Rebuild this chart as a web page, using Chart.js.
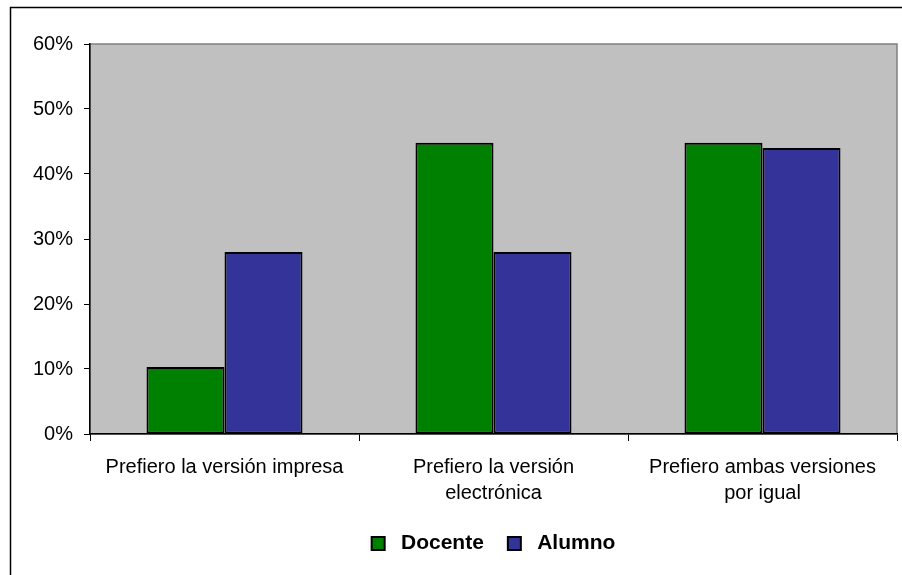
<!DOCTYPE html>
<html lang="es">
<head>
  <meta charset="UTF-8">
  <title>Preferencia de versión</title>
  <style>
    body { margin: 0; background: #fff; }
    #wrap { width: 902px; height: 575px; }
  </style>
</head>
<body>
  <div id="wrap"><canvas id="chart" width="902" height="575"></canvas></div>

  <script src="https://cdn.jsdelivr.net/npm/chart.js"></script>
  <script>
    // data
    const categories = [
      'Prefiero la versión impresa',
      ['Prefiero la versión', 'electrónica'],
      ['Prefiero ambas versiones', 'por igual']
    ];
    const docente = [0.103, 0.448, 0.448];
    const alumno = [0.28, 0.28, 0.44];
    const yTicks = [0, 0.1, 0.2, 0.3, 0.4, 0.5, 0.6];

    const font = 'Arial, "Liberation Sans", sans-serif';

    // gray plot background + outer frame
    const backdrop = {
      id: 'backdrop',
      beforeDraw(chart) {
        const ctx = chart.ctx;
        const a = chart.chartArea;
        ctx.save();
        ctx.strokeStyle = '#000';
        ctx.lineWidth = 1.5;
        ctx.strokeRect(10.5, 7.5, 902, 575);
        ctx.fillStyle = '#C0C0C0';
        ctx.fillRect(a.left, a.top, a.right - a.left, a.bottom - a.top);
        ctx.strokeStyle = '#808080';
        ctx.lineWidth = 1.5;
        ctx.strokeRect(a.left, a.top, a.right - a.left, a.bottom - a.top);
        ctx.restore();
      }
    };

    new Chart(document.getElementById('chart'), {
      type: 'bar',
      data: {
        labels: categories,
        datasets: [
          {
            label: ' Docente',
            data: docente,
            backgroundColor: '#008000',
            borderColor: '#000',
            borderWidth: 2,
            borderSkipped: false
          },
          {
            label: ' Alumno',
            data: alumno,
            backgroundColor: '#333399',
            borderColor: '#000',
            borderWidth: 2,
            borderSkipped: false
          }
        ]
      },
      options: {
        responsive: false,
        animation: false,
        datasets: { bar: { categoryPercentage: 0.58, barPercentage: 1 } },
        layout: { padding: { left: 10, right: 5, top: 44, bottom: 11 } },
        plugins: {
          tooltip: { enabled: false },
          legend: {
            position: 'bottom',
            fullSize: false,
            labels: {
              color: '#000',
              font: { family: font, size: 21, weight: 'bold' },
              boxWidth: 13,
              boxHeight: 13,
              padding: 24
            }
          }
        },
        scales: {
          x: {
            grid: {
              offset: true,
              drawOnChartArea: false,
              tickLength: 7,
              color: '#000'
            },
            border: { color: '#000', width: 1.5 },
            ticks: {
              color: '#000',
              padding: 13,
              maxRotation: 0,
              autoSkip: false,
              font: { family: font, size: 20, lineHeight: 1.3 }
            },
            afterFit(scale) { scale.height = 75; }
          },
          y: {
            min: 0,
            max: 0.6,
            grid: {
              drawOnChartArea: false,
              tickLength: 6,
              color: '#000'
            },
            border: { color: '#000', width: 1.5 },
            afterBuildTicks(scale) {
              scale.ticks = yTicks.map(v => ({ value: v }));
            },
            ticks: {
              color: '#000',
              padding: 11,
              font: { family: font, size: 20 },
              callback: v => Math.round(v * 100) + '%'
            },
            afterFit(scale) { scale.width = 80; }
          }
        }
      },
      plugins: [backdrop]
    });
  </script>
</body>
</html>
